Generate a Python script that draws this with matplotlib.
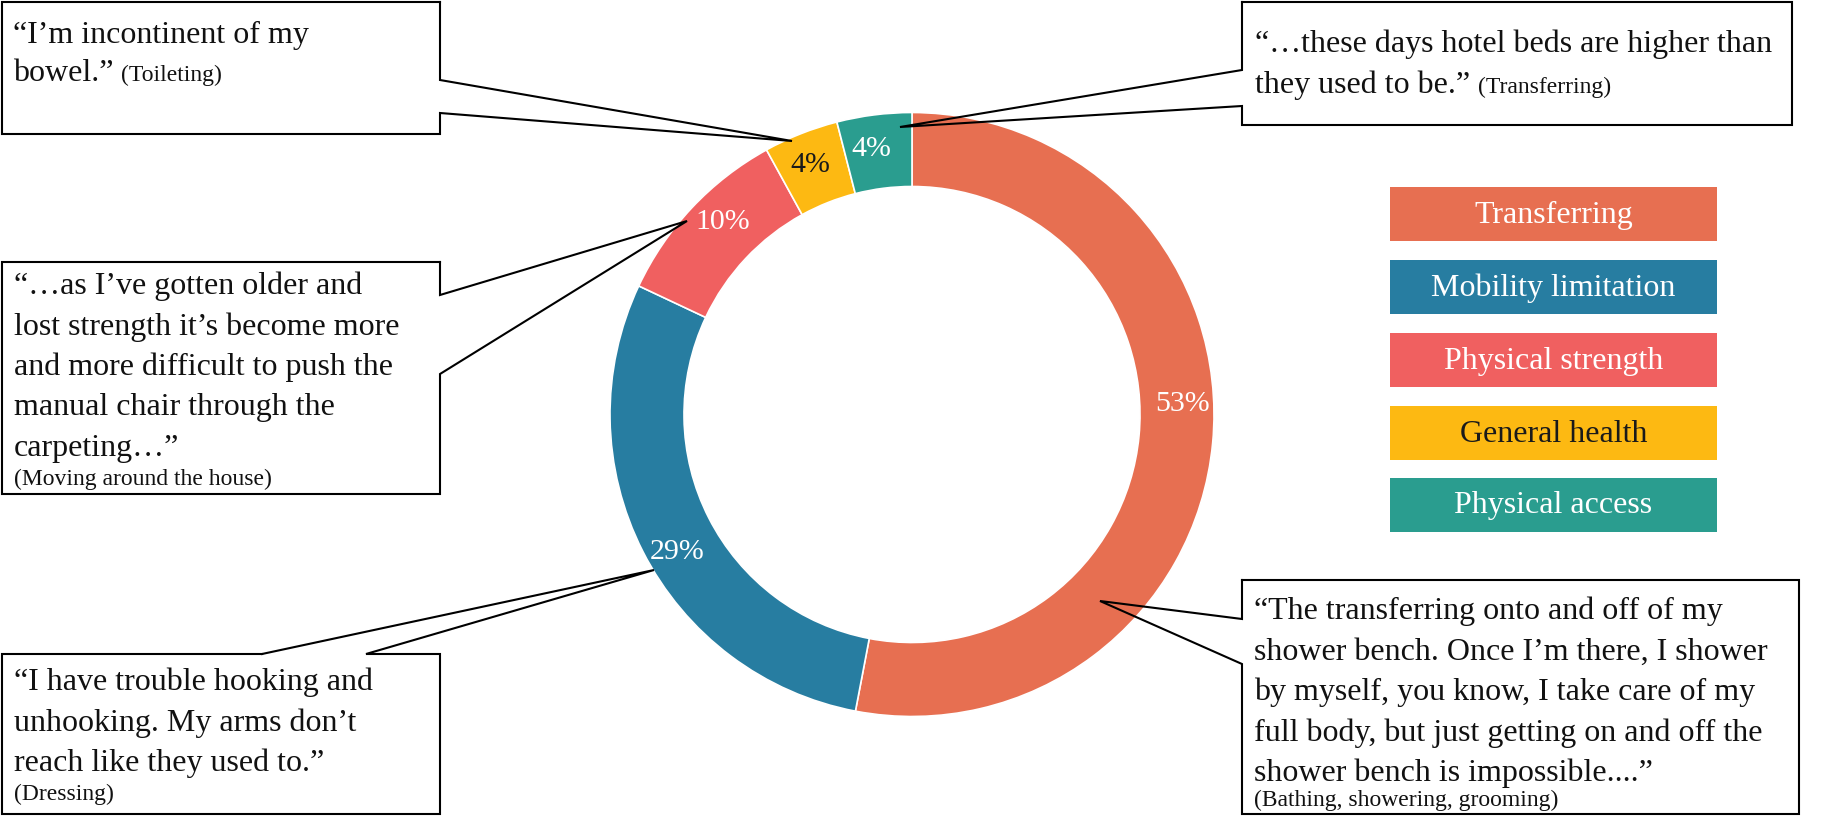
import matplotlib
matplotlib.use("Agg")
import matplotlib.pyplot as plt
from matplotlib.patches import Rectangle
import numpy as np

plt.rcParams['font.family'] = ['Liberation Serif', 'DejaVu Serif']

# data
categories = ["Transferring", "Mobility limitation", "Physical strength",
              "General health", "Physical access"]
shares = [53, 29, 10, 4, 4]
colors = ["#E76F51", "#277DA1", "#F06060", "#FDB912", "#2A9D8F"]
label_colors = ["white", "white", "white", "#1a1a1a", "white"]
legend_text_colors = ["white", "white", "white", "#1a1a1a", "white"]

quotes = [
    ["\u201cI\u2019m incontinent of my", "bowel.\u201d"],
    ["\u201c\u2026these days hotel beds are higher than", "they used to be.\u201d"],
    ["\u201c\u2026as I\u2019ve gotten older and", "lost strength it\u2019s become more",
     "and more difficult to push the", "manual chair through the", "carpeting\u2026\u201d"],
    ["\u201cI have trouble hooking and", "unhooking. My arms don\u2019t",
     "reach like they used to.\u201d"],
    ["\u201cThe transferring onto and off of my", "shower bench. Once I\u2019m there, I shower",
     "by myself, you know, I take care of my", "full body, but just getting on and off the",
     "shower bench is impossible....\u201d"],
]
activities = ["(Toileting)", "(Transferring)", "(Moving around the house)",
              "(Dressing)", "(Bathing, showering, grooming)"]

W, H = 1832, 818
fig = plt.figure(figsize=(W / 100, H / 100), dpi=100)
ax = fig.add_axes([0, 0, 1, 1])

# donut (y axis is flipped below, so counterclock=True draws clockwise on screen)
cx, cy, R, ring = 912, 414.5, 302, 74
wedges, _ = ax.pie(shares, colors=colors, startangle=-90, counterclock=True,
                   radius=R, center=(cx, cy),
                   wedgeprops=dict(width=ring, edgecolor="white", linewidth=1.2))

ax.set_xlim(0, W)
ax.set_ylim(H, 0)
ax.set_aspect("equal")
ax.axis("off")

pct_nudge = [-8, -3, 2.6, -0.4, -1.5]
for w, s, lc, nd in zip(wedges, shares, label_colors, pct_nudge):
    mid = np.deg2rad((w.theta1 + w.theta2) / 2 + nd)
    ax.text(cx + 271 * np.cos(mid), cy + 271 * np.sin(mid) + 2, f"{s}%",
            color=lc, fontsize=21.5, ha="center", va="center")

# legend boxes
leg_x, leg_w, leg_h = 1390, 327, 54
leg_tops = [187, 260, 333, 406, 478]
for cat, col, tc, top in zip(categories, colors, legend_text_colors, leg_tops):
    ax.add_patch(Rectangle((leg_x, top), leg_w, leg_h, facecolor=col, edgecolor="none"))
    ax.text(leg_x + leg_w / 2, top + leg_h / 2 + 1, cat, color=tc, fontsize=23,
            ha="center", va="center")

# callout boxes: (x0, y0, x1, y1), side of opening, opening span, tip, text x, first baseline
callouts = [
    dict(box=(2, 2, 440, 134), side="right", gap=(80, 113), tip=(792, 141),
         tx=13, base=43, step=38, inline=True, note_base=None),
    dict(box=(1242, 2, 1792, 125), side="left", gap=(70, 106), tip=(900, 127),
         tx=1255, base=52, step=41, inline=True, note_base=None),
    dict(box=(2, 262, 440, 494), side="right", gap=(295, 374), tip=(687, 221),
         tx=14, base=294, step=40.5, inline=False, note_base=485),
    dict(box=(2, 654, 440, 814), side="top", gap=(262, 366), tip=(654, 570),
         tx=14, base=690, step=40.5, inline=False, note_base=800),
    dict(box=(1242, 580, 1799, 814), side="left", gap=(619, 664), tip=(1100, 601),
         tx=1254, base=619, step=40.5, inline=False, note_base=806),
]

fig.canvas.draw()
renderer = fig.canvas.get_renderer()

for c, lines, note in zip(callouts, quotes, activities):
    x0, y0, x1, y1 = c["box"]
    g0, g1 = c["gap"]
    tx, ty = c["tip"]
    ax.add_patch(Rectangle((x0, y0), x1 - x0, y1 - y0, facecolor="white",
                           edgecolor="none", zorder=3))
    if c["side"] == "right":
        px = [x1, x0, x0, x1, x1, tx, x1, x1]
        py = [y0, y0, y1, y1, g1, ty, g0, y0]
    elif c["side"] == "left":
        px = [x0, x1, x1, x0, x0, tx, x0, x0]
        py = [y0, y0, y1, y1, g1, ty, g0, y0]
    else:  # top
        px = [g0, x0, x0, x1, x1, g1, tx, g0]
        py = [y0, y0, y1, y1, y0, y0, ty, y0]
    ax.plot(px, py, color="black", lw=1.5, zorder=4, solid_joinstyle="miter")

    last = None
    for i, ln in enumerate(lines):
        last = ax.text(c["tx"], c["base"] + i * c["step"], ln, fontsize=23,
                       color="#111111", ha="left", va="baseline", zorder=5)
    if c["inline"]:
        ext = last.get_window_extent(renderer)
        ax.text(c["tx"] + ext.width + 8, c["base"] + (len(lines) - 1) * c["step"], note,
                fontsize=17, color="#111111", ha="left", va="baseline", zorder=5)
    else:
        ax.text(c["tx"], c["note_base"], note, fontsize=17, color="#111111",
                ha="left", va="baseline", zorder=5)

fig.savefig("out.png", dpi=100, facecolor="white")
